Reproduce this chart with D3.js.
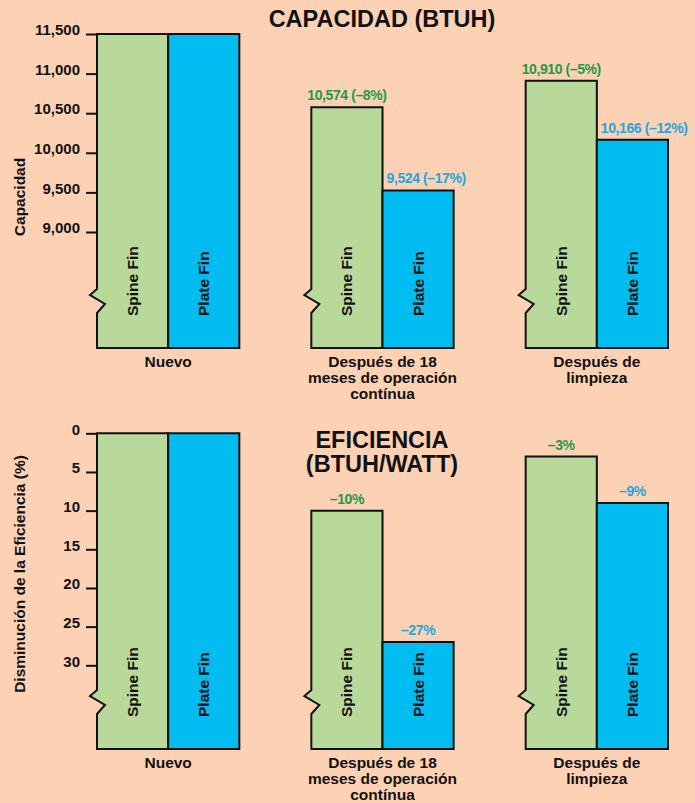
<!DOCTYPE html>
<html>
<head>
<meta charset="utf-8">
<script src="https://cdn.jsdelivr.net/npm/d3@7"></script>
<style>
  body { margin: 0; background: #fdd1b3; }
  svg { display: block; font-family: "Liberation Sans", Arial, sans-serif; font-weight: bold; }
</style>
</head>
<body>
<svg id="chart" width="695" height="803"></svg>
<script>
// categories (one line per text row)
var categories = ['Nuevo', 'Después de 18', 'Después de'];
var categoryLines = [
  ['Nuevo'],
  ['Después de 18', 'meses de operación', 'contínua'],
  ['Después de', 'limpieza']
];
var fins = ['Spine Fin', 'Plate Fin'];

// capacidad (BTUH)
var capSpine = [11500, 10574, 10910];
var capPlate = [11500, 9524, 10166];
var capSpineLabels = ['', '10,574 (–8%)', '10,910 (–5%)'];
var capPlateLabels = ['', '9,524 (–17%)', '10,166 (–12%)'];
var capTicks = [9000, 9500, 10000, 10500, 11000, 11500];

// eficiencia, disminución (%)
var effSpine = [0, 10, 3];
var effPlate = [0, 27, 9];
var effSpineLabels = ['', '–10%', '–3%'];
var effPlateLabels = ['', '–27%', '–9%'];
var effTicks = [0, 5, 10, 15, 20, 25, 30];

var colors = {'Spine Fin': '#b9d99b', 'Plate Fin': '#00bcf1'};
var labelColors = {'Spine Fin': '#1c9b4b', 'Plate Fin': '#23a7de'};

var svg = d3.select('#chart');

var x0 = d3.scaleBand().domain(categories).range([97, 668]).paddingInner(0.336).paddingOuter(0);
var x1 = d3.scaleBand().domain(fins).range([0, x0.bandwidth()]);

function panel(opts) {
  var g = svg.append('g');
  var y = opts.y;
  var base = opts.base;

  // axis ticks
  var axis = d3.axisLeft(y).tickValues(opts.ticks).tickSize(11).tickPadding(6).tickFormat(opts.format);
  var ax = g.append('g').attr('transform', 'translate(97,0)').call(axis);
  ax.select('.domain').remove();
  ax.selectAll('.tick line').attr('stroke', '#111').attr('stroke-width', 2);
  ax.selectAll('.tick text').attr('dy', '0.05em').attr('fill', '#111')
    .style('font-size', '15px').style('font-family', '"Liberation Sans", Arial, sans-serif');

  // bars
  var rows = [];
  categories.forEach(function(c, i) {
    rows.push({cat: c, fin: 'Spine Fin', v: opts.spine[i], label: opts.spineLabels[i], i: i});
    rows.push({cat: c, fin: 'Plate Fin', v: opts.plate[i], label: opts.plateLabels[i], i: i});
  });

  g.selectAll('path.bar').data(rows).enter()
    .append('path')
    .attr('class', 'bar')
    .attr('fill', function(d) { return colors[d.fin]; })
    .attr('stroke', '#111')
    .attr('stroke-width', 2)
    .attr('stroke-linejoin', 'miter')
    .attr('d', function(d) {
      var l = x0(d.cat) + x1(d.fin), r = l + x1.bandwidth(), t = y(d.v);
      if (d.fin === 'Spine Fin') {
        // left edge carries the axis break
        return 'M' + l + ',' + base + 'L' + l + ',' + (base - 35) + 'L' + (l + 8) + ',' + (base - 44) +
          'L' + (l - 7) + ',' + (base - 53) + 'L' + l + ',' + (base - 59) + 'L' + l + ',' + t +
          'L' + r + ',' + t + 'L' + r + ',' + base + 'Z';
      }
      return 'M' + l + ',' + base + 'L' + l + ',' + t + 'L' + r + ',' + t + 'L' + r + ',' + base + 'Z';
    });

  // fin names inside bars
  g.selectAll('text.fin').data(rows).enter()
    .append('text')
    .attr('class', 'fin')
    .attr('transform', function(d) {
      return 'translate(' + (x0(d.cat) + x1(d.fin) + x1.bandwidth() / 2 + 5.5) + ',' + (base - 32) + ') rotate(-90)';
    })
    .style('font-size', '15.5px')
    .attr('fill', '#111')
    .text(function(d) { return d.fin; });

  // value labels
  g.selectAll('text.val').data(rows.filter(function(d) { return d.label; })).enter()
    .append('text')
    .attr('class', 'val')
    .attr('x', function(d) {
      var l = x0(d.cat) + x1(d.fin);
      if (opts.shiftPlate && d.fin === 'Plate Fin') return l + 4;
      return l + x1.bandwidth() / 2;
    })
    .attr('y', function(d) { return y(d.v) - 7; })
    .attr('text-anchor', function(d) { return (opts.shiftPlate && d.fin === 'Plate Fin') ? 'start' : 'middle'; })
    .attr('fill', function(d) { return labelColors[d.fin]; })
    .style('font-size', '14px')
    .style('letter-spacing', '-0.4px')
    .text(function(d) { return d.label; });

  // category labels
  categories.forEach(function(c, i) {
    var t = g.append('text')
      .attr('x', x0(c) + x0.bandwidth() / 2)
      .attr('y', base + 18.5)
      .attr('text-anchor', 'middle')
      .attr('fill', '#111')
      .style('font-size', '15.5px');
    categoryLines[i].forEach(function(line, k) {
      t.append('tspan').attr('x', x0(c) + x0.bandwidth() / 2).attr('dy', k === 0 ? 0 : 16.2).text(line);
    });
  });

  // y title
  g.append('text')
    .attr('transform', 'translate(25,' + opts.titleY + ') rotate(-90)')
    .attr('text-anchor', 'middle')
    .attr('fill', '#111')
    .style('font-size', '15.5px')
    .text(opts.yTitle);

  // panel title
  var tt = g.append('text').attr('text-anchor', 'middle').attr('fill', '#111').style('font-size', '23.5px');
  opts.title.forEach(function(line, k) {
    tt.append('tspan').attr('x', 382).attr('y', opts.titleTop + k * 24).text(line);
  });
}

panel({
  y: d3.scaleLinear().domain([9000, 11500]).range([232, 34]),
  base: 348,
  ticks: capTicks,
  format: d3.format(','),
  spine: capSpine, plate: capPlate,
  spineLabels: capSpineLabels, plateLabels: capPlateLabels,
  shiftPlate: true,
  yTitle: 'Capacidad', titleY: 197,
  title: ['CAPACIDAD (BTUH)'], titleTop: 27
});

panel({
  y: d3.scaleLinear().domain([0, 30]).range([433.3, 665.3]),
  base: 749,
  ticks: effTicks,
  format: d3.format('d'),
  spine: effSpine, plate: effPlate,
  spineLabels: effSpineLabels, plateLabels: effPlateLabels,
  shiftPlate: false,
  yTitle: 'Disminución de la Eficiencia (%)', titleY: 574,
  title: ['EFICIENCIA', '(BTUH/WATT)'], titleTop: 448
});
</script>
</body>
</html>
